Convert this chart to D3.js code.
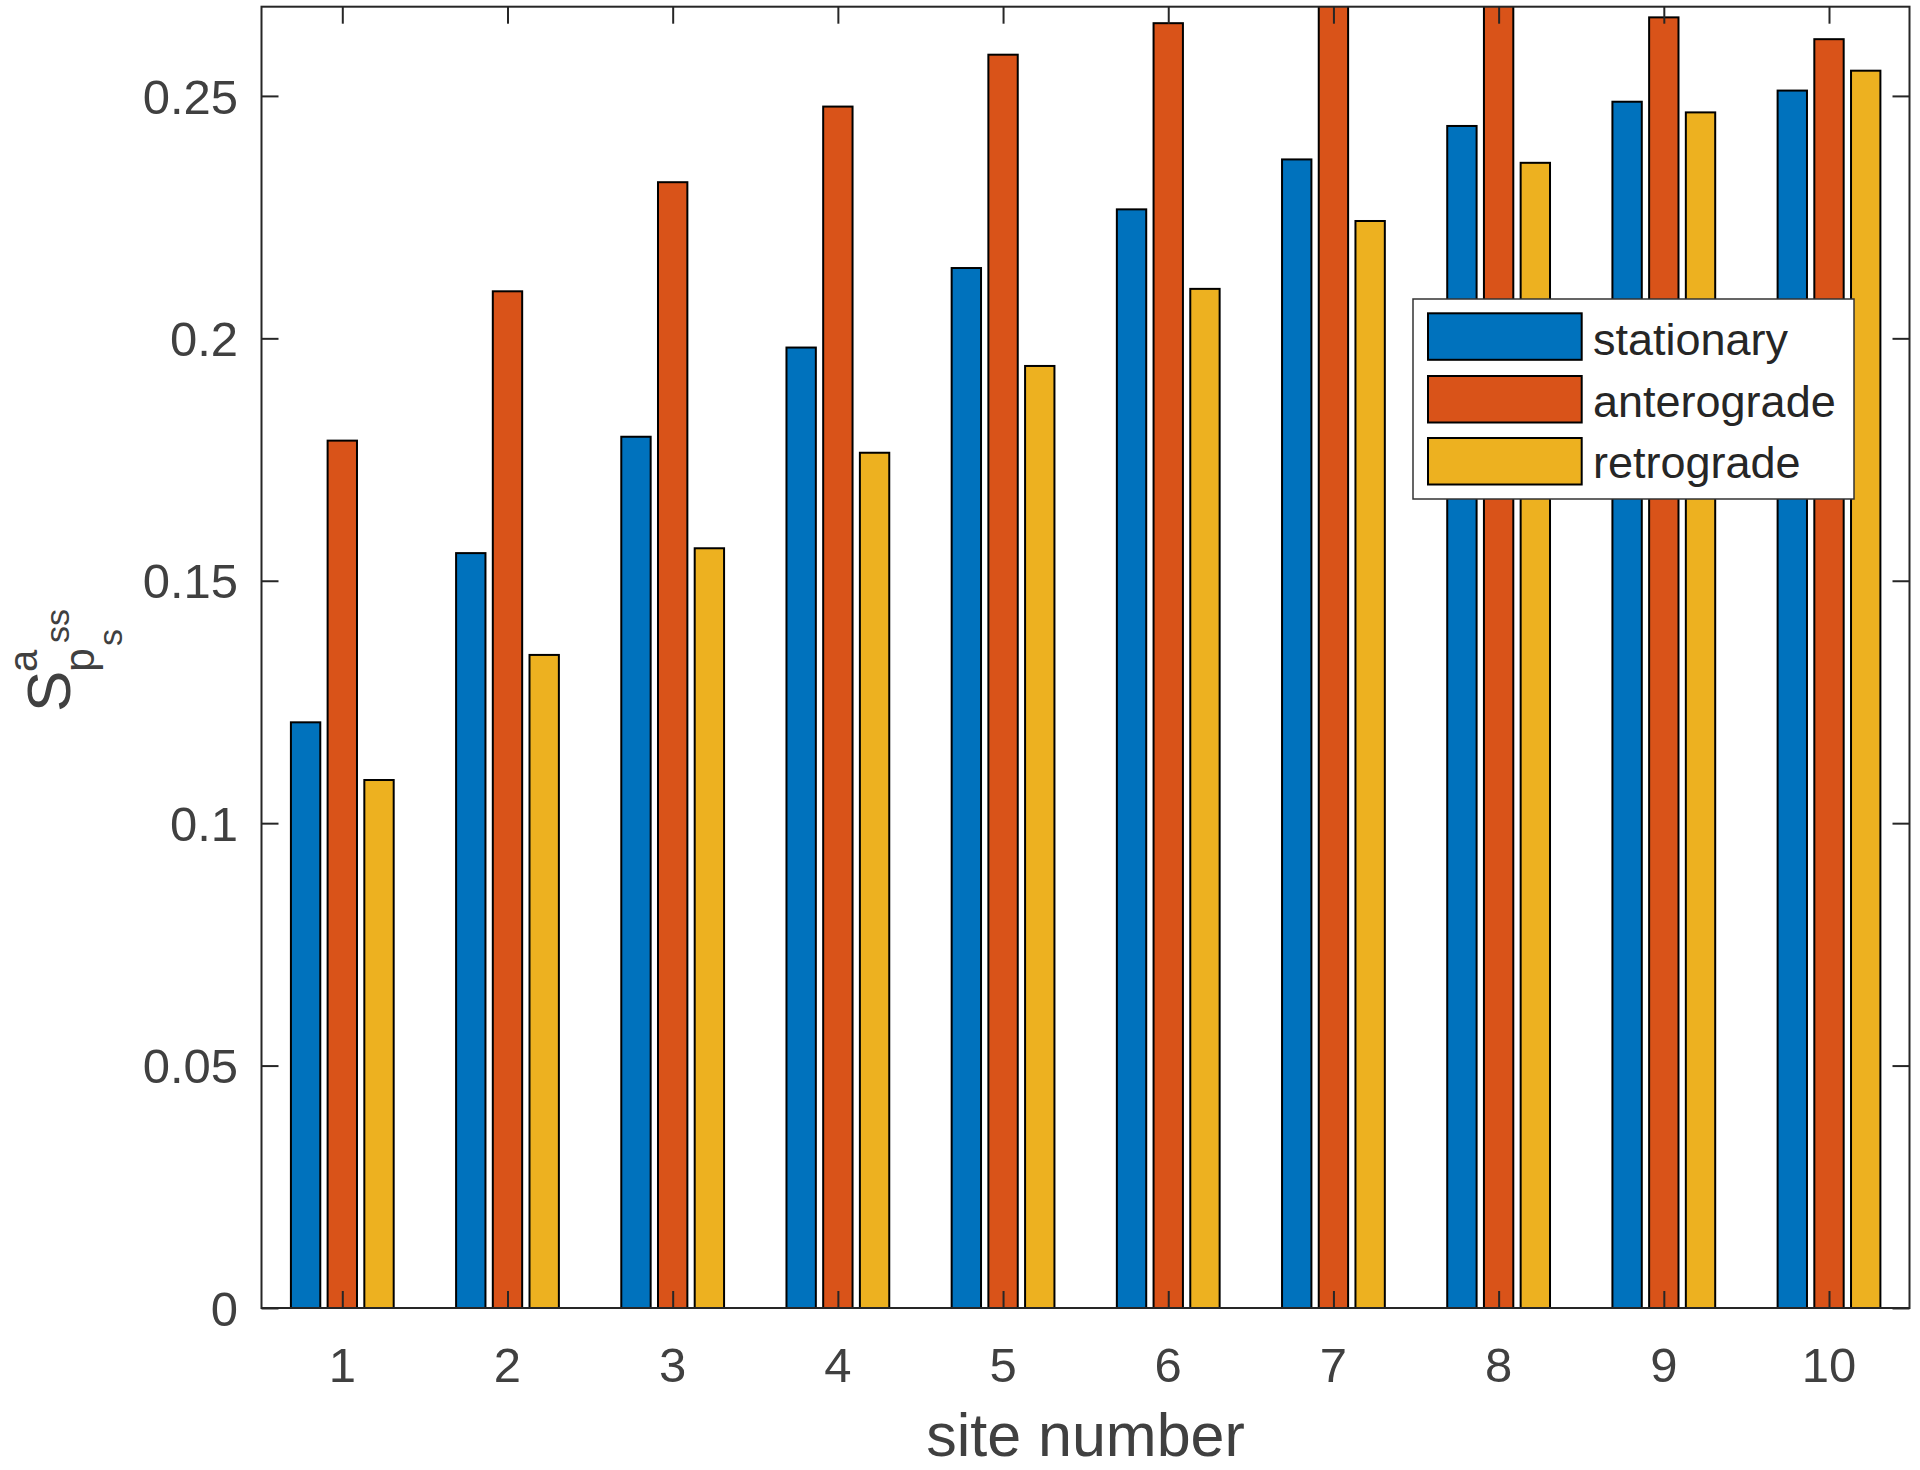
<!DOCTYPE html>
<html>
<head>
<meta charset="utf-8">
<script src="https://cdn.jsdelivr.net/npm/d3@7"></script>
<style>
  html, body { margin: 0; padding: 0; background: #fff; }
  svg { display: block; font-family: "Liberation Sans", Arial, Helvetica, sans-serif; }
</style>
</head>
<body>
<svg id="chart" width="1920" height="1470"></svg>
<script>
const sites = [1, 2, 3, 4, 5, 6, 7, 8, 9, 10];
const seriesNames = ["stationary", "anterograde", "retrograde"];
const stationary  = [0.1208, 0.1557, 0.1797, 0.1981, 0.2145, 0.2266, 0.2369, 0.2438, 0.2488, 0.2511];
const anterograde = [0.1789, 0.2097, 0.2322, 0.2478, 0.2585, 0.2650, 0.2700, 0.2705, 0.2662, 0.2617];
const retrograde  = [0.1089, 0.1347, 0.1567, 0.1764, 0.1943, 0.2102, 0.2242, 0.2362, 0.2466, 0.2552];
const yTicks = [0, 0.05, 0.1, 0.15, 0.2, 0.25];
const yTickLabels = ["0", "0.05", "0.1", "0.15", "0.2", "0.25"];
const colors = ["#0072BD", "#D95319", "#EDB120"];

(function () {
const series = [stationary, anterograde, retrograde];

const svg = d3.select("#chart");
const pLeft = 261.5, pRight = 1909.5, pTop = 6.7, pBottom = 1308;
const axisColor = "#262626";
const textColor = "#404040";

const x = d3.scaleLinear().domain([1, 10]).range([342.3, 1829]);
const y = d3.scaleLinear().domain([0, 0.2684]).range([pBottom, pTop]);

const pitch = 2 / 9;            // group width 2/3 split in 3
const barW = 0.8 * pitch;

svg.append("defs").append("clipPath").attr("id", "plotClip")
  .append("rect").attr("x", pLeft).attr("y", pTop).attr("width", pRight - pLeft).attr("height", pBottom - pTop);

const bars = svg.append("g").attr("clip-path", "url(#plotClip)");
series.forEach((vals, si) => {
  bars.append("g").selectAll("rect").data(vals).enter().append("rect")
    .attr("x", (d, i) => x(sites[i] + (si - 1) * pitch - barW / 2))
    .attr("width", (d, i) => x(sites[i] + barW / 2) - x(sites[i] - barW / 2))
    .attr("y", d => y(d))
    .attr("height", d => y(0) - y(d))
    .attr("fill", colors[si])
    .attr("stroke", "#000")
    .attr("stroke-width", 2);
});

// Axes
const tickLen = 17;
const axisG = svg.append("g");
const bottomAxis = d3.axisBottom(x).tickValues(sites).tickSize(-tickLen).tickSizeOuter(0).tickFormat("");
const topAxis = d3.axisTop(x).tickValues(sites).tickSize(-tickLen).tickSizeOuter(0).tickFormat("");
const leftAxis = d3.axisLeft(y).tickValues(yTicks).tickSize(-tickLen).tickSizeOuter(0).tickFormat("");
const rightAxis = d3.axisRight(y).tickValues(yTicks).tickSize(-tickLen).tickSizeOuter(0).tickFormat("");

function styleAxis(g) {
  g.selectAll("path.domain").remove();
  g.selectAll("text").remove();
  g.selectAll("line").attr("stroke", axisColor).attr("stroke-width", 2);
}
axisG.append("g").attr("transform", `translate(0,${pBottom})`).call(bottomAxis).call(styleAxis);
axisG.append("g").attr("transform", `translate(0,${pTop})`).call(topAxis).call(styleAxis);
axisG.append("g").attr("transform", `translate(${pLeft},0)`).call(leftAxis).call(styleAxis);
axisG.append("g").attr("transform", `translate(${pRight},0)`).call(rightAxis).call(styleAxis);

// Box
axisG.append("rect").attr("x", pLeft).attr("y", pTop).attr("width", pRight - pLeft).attr("height", pBottom - pTop)
  .attr("fill", "none").attr("stroke", axisColor).attr("stroke-width", 2);

// Tick labels
svg.append("g").selectAll("text").data(sites).enter().append("text")
  .attr("x", d => x(d)).attr("y", 1382)
  .attr("text-anchor", "middle").attr("font-size", 49).attr("fill", textColor)
  .text(d => d);

svg.append("g").selectAll("text").data(yTicks).enter().append("text")
  .attr("x", 238).attr("y", d => y(d)).attr("dy", "0.36em")
  .attr("text-anchor", "end").attr("font-size", 49).attr("fill", textColor)
  .text((d, i) => yTickLabels[i]);

// X label
svg.append("text").attr("x", (pLeft + pRight) / 2).attr("y", 1456)
  .attr("text-anchor", "middle").attr("font-size", 61).attr("fill", textColor)
  .text("site number");

// Y label: S^{a_{ss}}_{p_s}
const yl = svg.append("g").attr("transform", "translate(70,712) rotate(-90)").attr("fill", textColor);
yl.append("text").attr("x", 0).attr("y", 0).attr("font-size", 62).text("S");
yl.append("text").attr("x", 40).attr("y", -33).attr("font-size", 40).text("a");
yl.append("text").attr("x", 69).attr("y", -1).attr("font-size", 34).text("ss");
yl.append("text").attr("x", 40).attr("y", 24).attr("font-size", 43).text("p");
yl.append("text").attr("x", 66).attr("y", 52).attr("font-size", 34).text("s");

// Legend
const lg = svg.append("g");
lg.append("rect").attr("x", 1413).attr("y", 299).attr("width", 441).attr("height", 200)
  .attr("fill", "#fff").attr("stroke", "#333").attr("stroke-width", 1.5);
const rowY = [313.3, 376, 438];
const baseY = [355, 416.7, 478];
seriesNames.forEach((name, i) => {
  lg.append("rect").attr("x", 1428).attr("y", rowY[i]).attr("width", 153.7).attr("height", 46.5)
    .attr("fill", colors[i]).attr("stroke", "#000").attr("stroke-width", 2);
  lg.append("text").attr("x", 1593).attr("y", baseY[i]).attr("font-size", 45).attr("fill", "#262626").text(name);
});
})();
</script>
</body>
</html>
